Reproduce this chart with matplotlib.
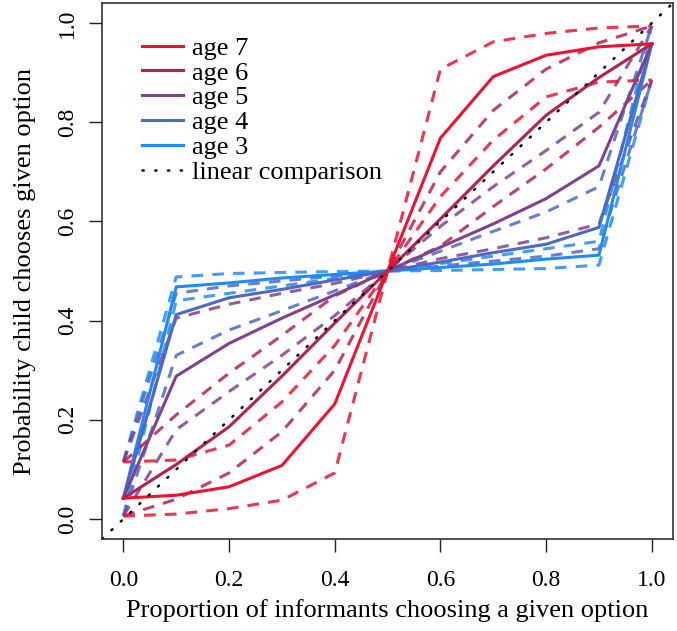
import numpy as np
import matplotlib
matplotlib.use("Agg")
import matplotlib.pyplot as plt

plt.rcParams['font.family'] = ['Liberation Serif', 'DejaVu Serif']

# proportion of informants choosing the option
prop = [0.0, 0.1, 0.2, 0.3, 0.4, 0.5, 0.6, 0.7, 0.8, 0.9, 1.0]

# model predictions per age: mean, lower and upper interval
age7_mean = [0.042, 0.048, 0.065, 0.108, 0.232, 0.5, 0.768, 0.892, 0.935, 0.952, 0.958]
age7_low = [0.006, 0.010, 0.021, 0.038, 0.093, 0.5, 0.650, 0.764, 0.851, 0.881, 0.885]
age7_high = [0.115, 0.119, 0.149, 0.236, 0.350, 0.5, 0.907, 0.962, 0.979, 0.990, 0.994]

age6_mean = [0.042, 0.110, 0.186, 0.288, 0.395, 0.5, 0.605, 0.712, 0.814, 0.890, 0.958]
age6_low = [0.006, 0.040, 0.093, 0.176, 0.300, 0.5, 0.550, 0.630, 0.706, 0.790, 0.885]
age6_high = [0.115, 0.210, 0.294, 0.370, 0.450, 0.5, 0.700, 0.824, 0.907, 0.960, 0.994]

age5_mean = [0.042, 0.288, 0.354, 0.405, 0.452, 0.5, 0.548, 0.595, 0.646, 0.712, 0.958]
age5_low = [0.006, 0.180, 0.257, 0.330, 0.410, 0.5, 0.525, 0.545, 0.567, 0.595, 0.885]
age5_high = [0.115, 0.405, 0.433, 0.455, 0.475, 0.5, 0.590, 0.670, 0.743, 0.820, 0.994]

age4_mean = [0.042, 0.412, 0.446, 0.463, 0.482, 0.5, 0.518, 0.537, 0.554, 0.588, 0.958]
age4_low = [0.006, 0.330, 0.381, 0.420, 0.460, 0.5, 0.510, 0.520, 0.530, 0.545, 0.885]
age4_high = [0.115, 0.455, 0.470, 0.480, 0.490, 0.5, 0.540, 0.580, 0.619, 0.670, 0.994]

age3_mean = [0.042, 0.468, 0.476, 0.486, 0.493, 0.5, 0.507, 0.514, 0.524, 0.532, 0.958]
age3_low = [0.006, 0.440, 0.455, 0.470, 0.485, 0.5, 0.501, 0.503, 0.505, 0.512, 0.885]
age3_high = [0.115, 0.488, 0.495, 0.497, 0.499, 0.5, 0.515, 0.530, 0.545, 0.560, 0.994]

ages = ["age 7", "age 6", "age 5", "age 4", "age 3"]
colours = ["#EE1230", "#B52050", "#7E428E", "#4E68C6", "#1E8CF8"]
means = [age7_mean, age6_mean, age5_mean, age4_mean, age3_mean]
lows = [age7_low, age6_low, age5_low, age4_low, age3_low]
highs = [age7_high, age6_high, age5_high, age4_high, age3_high]

fig = plt.figure(figsize=(6.77, 6.31), dpi=100)
ax = fig.add_axes([0.151, 0.146, 0.843, 0.849])

# draw youngest first so red ends up on top, like the original
for lab, col, m, lo, hi in reversed(list(zip(ages, colours, means, lows, highs))):
    ax.plot(prop, lo, color=col, lw=2.2, ls=(0, (3.8, 3)), alpha=0.85)
    ax.plot(prop, hi, color=col, lw=2.2, ls=(0, (3.8, 3)), alpha=0.85)
handles = []
for lab, col, m in reversed(list(zip(ages, colours, means))):
    h, = ax.plot(prop, m, color=col, lw=2.2, label=lab)
    handles.append(h)
handles = handles[::-1]

# linear comparison
lin, = ax.plot([-0.04, 1.04], [-0.04, 1.04], color="black", lw=1.8,
               ls=(0, (0.5, 4.6)), dash_capstyle="round", label="linear comparison")
handles.append(lin)

ax.set_xlim(-0.04, 1.04)
ax.set_ylim(-0.04, 1.04)
ticks = [0.0, 0.2, 0.4, 0.6, 0.8, 1.0]
ax.set_xticks(ticks)
ax.set_yticks(ticks)
ax.set_xticklabels(["%.1f" % t for t in ticks], fontsize=17)
ax.set_yticklabels(["%.1f" % t for t in ticks], fontsize=17, rotation=90, va="center")
ax.tick_params(direction="out", length=9.5, width=1, colors="#222222", labelcolor="black")
ax.tick_params(axis="x", pad=13)
ax.tick_params(axis="y", pad=8)
for s in ax.spines.values():
    s.set_color("#333333")
    s.set_linewidth(1.2)

ax.set_xlabel("Proportion of informants choosing a given option", fontsize=19, labelpad=6)
ax.set_ylabel("Probability child chooses given option", fontsize=19, labelpad=15)

leg = ax.legend(handles=handles, loc="upper left", bbox_to_anchor=(0.069, 0.938),
                frameon=False, fontsize=19, handlelength=1.55, handletextpad=0.35,
                labelspacing=0.05, borderaxespad=0, borderpad=0)

fig.savefig("out.png", dpi=100)
